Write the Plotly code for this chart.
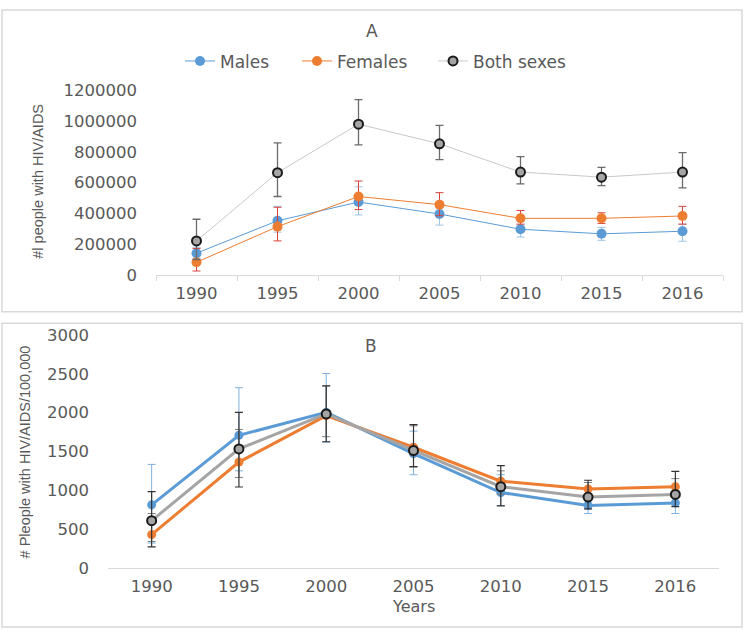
import plotly.graph_objects as go

years = ["1990", "1995", "2000", "2005", "2010", "2015", "2016"]

# Panel A: number of people with HIV/AIDS
males_a = [141000, 352000, 474000, 396000, 297000, 267000, 284000]
males_a_hi = [180000, 446000, 573000, 442000, 324000, 309000, 330000]
males_a_lo = [109000, 278000, 390000, 324000, 246000, 225000, 219000]

females_a = [82000, 314000, 510000, 457000, 368000, 368000, 383000]
females_a_hi = [172000, 440000, 611000, 535000, 419000, 404000, 446000]
females_a_lo = [25000, 221000, 425000, 385000, 330000, 335000, 330000]

both_a = [221000, 665000, 981000, 853000, 669000, 636000, 669000]
both_a_hi = [362000, 859000, 1141000, 973000, 769000, 699000, 796000]
both_a_lo = [100000, 510000, 846000, 750000, 592000, 581000, 566000]

# Panel B: people with HIV/AIDS per 100,000
males_b = [812, 1708, 2004, 1471, 971, 804, 837]
males_b_hi = [1333, 2321, 2504, 1762, 1200, 920, 960]
males_b_lo = [320, 1250, 1620, 1200, 804, 700, 700]

females_b = [429, 1363, 1962, 1554, 1117, 1017, 1046]
females_b_hi = [700, 1783, 2340, 1830, 1250, 1100, 1150]
females_b_lo = [340, 1165, 1690, 1300, 950, 900, 920]

both_b = [608, 1533, 1983, 1512, 1046, 912, 946]
both_b_hi = [983, 2004, 2346, 1846, 1317, 1129, 1242]
both_b_lo = [271, 1042, 1625, 1304, 800, 760, 790]

ticks_a = [0, 200000, 400000, 600000, 800000, 1000000, 1200000]
ticks_a_text = ["0", "200000", "400000", "600000", "800000", "1000000", "1200000"]
ticks_b = [0, 500, 1000, 1500, 2000, 2500, 3000]

BLUE = "#5B9BD5"
ORANGE = "#ED7D31"
GRAY = "#A5A5A5"
TXT = "#595959"
HFONT = "DejaVu Sans"
VFONT = "Liberation Sans"

W, H = 744, 639


def px(x):
    return x / W


def py(y):
    return (H - y) / H


def err(v, hi, lo, color, width=1, cap=4):
    return dict(type="data", symmetric=False,
                array=[h - a for a, h in zip(v, hi)],
                arrayminus=[a - l for a, l in zip(v, lo)],
                color=color, thickness=width, width=cap)


fig = go.Figure()

# ---- Panel A ----
fig.add_trace(go.Scatter(x=years, y=males_a, name="Males", mode="lines+markers",
                         line=dict(color=BLUE, width=1),
                         marker=dict(color=BLUE, size=10),
                         error_y=err(males_a, males_a_hi, males_a_lo, "#9DC3E6"),
                         legend="legend", xaxis="x", yaxis="y"))
fig.add_trace(go.Scatter(x=years, y=females_a, name="Females", mode="lines+markers",
                         line=dict(color=ORANGE, width=1),
                         marker=dict(color=ORANGE, size=10),
                         error_y=err(females_a, females_a_hi, females_a_lo, "#D9403A"),
                         legend="legend2", xaxis="x", yaxis="y"))
fig.add_trace(go.Scatter(x=years, y=both_a, name="Both sexes", mode="lines+markers",
                         line=dict(color="#C8C8C8", width=1),
                         marker=dict(color=GRAY, size=9, line=dict(color="#1a1a1a", width=2)),
                         error_y=err(both_a, both_a_hi, both_a_lo, "#6b6b6b", 1.3),
                         legend="legend3", xaxis="x", yaxis="y"))

# ---- Panel B ----
fig.add_trace(go.Scatter(x=years, y=males_b, name="Males", mode="lines+markers",
                         line=dict(color=BLUE, width=3),
                         marker=dict(color=BLUE, size=9),
                         error_y=err(males_b, males_b_hi, males_b_lo, "#7FB0DE"),
                         showlegend=False, xaxis="x2", yaxis="y2"))
fig.add_trace(go.Scatter(x=years, y=females_b, name="Females", mode="lines+markers",
                         line=dict(color=ORANGE, width=3),
                         marker=dict(color=ORANGE, size=9),
                         error_y=err(females_b, females_b_hi, females_b_lo, "#7f7f7f"),
                         showlegend=False, xaxis="x2", yaxis="y2"))
fig.add_trace(go.Scatter(x=years, y=both_b, name="Both sexes", mode="lines+markers",
                         line=dict(color=GRAY, width=3),
                         marker=dict(color=GRAY, size=9, line=dict(color="#1a1a1a", width=2)),
                         error_y=err(both_b, both_b_hi, both_b_lo, "#333333", 1.2),
                         showlegend=False, xaxis="x2", yaxis="y2"))

tickfont = dict(family=HFONT, size=16.5, color=TXT)
legfont = dict(family=HFONT, size=17, color=TXT)


def leg(xtext):
    return dict(orientation="h", x=px(xtext - 40), xanchor="left", y=py(54), yanchor="middle",
                font=legfont, bgcolor="rgba(0,0,0,0)", borderwidth=0)


fig.update_layout(
    width=W, height=H,
    margin=dict(l=0, r=0, t=0, b=0),
    paper_bgcolor="white", plot_bgcolor="white",
    font=dict(family=HFONT, color=TXT),
    xaxis=dict(domain=[px(156), px(723)], anchor="y", type="category",
               range=[-0.5, 6.5], showline=True, linecolor="#D9D9D9", linewidth=1,
               ticks="outside", tickson="boundaries", ticklen=5, tickcolor="#D9D9D9",
               showgrid=False, zeroline=False, tickfont=tickfont, ticklabelstandoff=3),
    yaxis=dict(domain=[py(274), py(84)], anchor="x", range=[0, 1200000],
               tickvals=ticks_a, ticktext=ticks_a_text,
               showgrid=False, zeroline=False, showline=False, ticks="",
               tickfont=tickfont, ticklabelstandoff=18),
    xaxis2=dict(domain=[px(108), px(719)], anchor="y2", type="category",
                range=[-0.5, 6.5], showline=True, linecolor="#D9D9D9", linewidth=1,
                ticks="", showgrid=False, zeroline=False, tickfont=tickfont,
                ticklabelstandoff=3),
    yaxis2=dict(domain=[py(576), py(336)], anchor="x2", range=[0, 3000],
                tickvals=ticks_b,
                showgrid=False, zeroline=False, showline=False, ticks="",
                tickfont=tickfont, ticklabelstandoff=18),
    legend=leg(220),
    legend2=leg(337),
    legend3=leg(473),
    shapes=[
        dict(type="rect", xref="paper", yref="paper", x0=px(2), x1=px(742), y0=py(312), y1=py(1),
             line=dict(color="#D9D9D9", width=1.5)),
        dict(type="rect", xref="paper", yref="paper", x0=px(2), x1=px(742), y0=py(637), y1=py(324),
             line=dict(color="#D9D9D9", width=1.5)),
    ],
    annotations=[
        dict(text="A", x=px(372), y=py(23), xref="paper", yref="paper", showarrow=False,
             font=dict(family=HFONT, size=17, color=TXT), xanchor="center", yanchor="middle"),
        dict(text="B", x=px(371), y=py(347), xref="paper", yref="paper", showarrow=False,
             font=dict(family=HFONT, size=17, color=TXT), xanchor="center", yanchor="middle"),
        dict(text="#l people with HIV/AIDS", x=px(38), y=py(178), xref="paper", yref="paper",
             showarrow=False, textangle=-90, xanchor="center", yanchor="middle",
             font=dict(family=VFONT, size=14.5, color=TXT)),
        dict(text="# Pleople with HIV/AIDS/100,000", x=px(25), y=py(457), xref="paper", yref="paper",
             showarrow=False, textangle=-90, xanchor="center", yanchor="middle",
             font=dict(family=VFONT, size=14.5, color=TXT)),
        dict(text="Years", x=px(414), y=py(616), xref="paper", yref="paper", showarrow=False,
             xanchor="center", yanchor="middle", font=dict(family=HFONT, size=16, color=TXT)),
    ],
)

fig.write_html("out.html", config={"displayModeBar": False},
               post_script="document.body.style.margin='0';")
